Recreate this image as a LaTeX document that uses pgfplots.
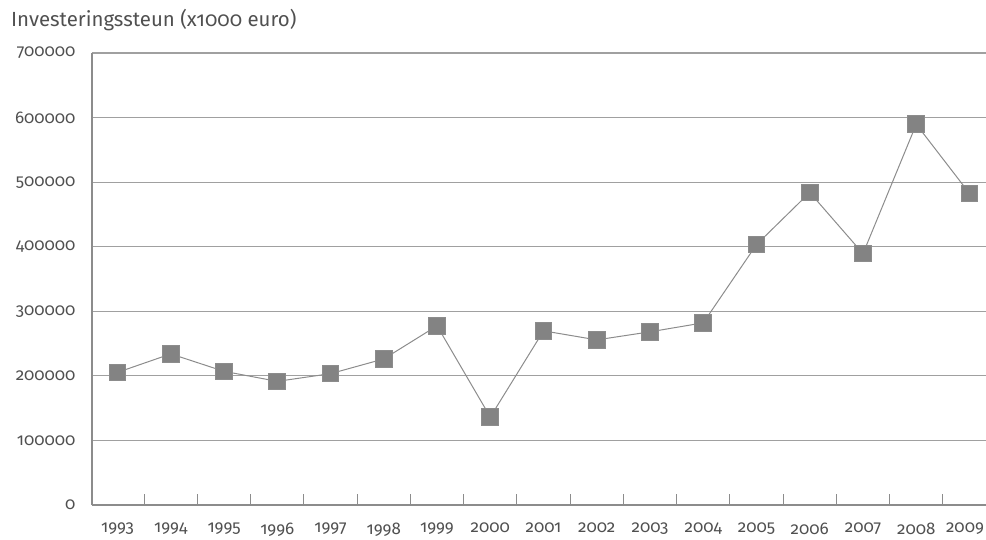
\documentclass[border=0pt]{standalone}
\usepackage{fontspec}
\setmainfont{Fira Sans}[Numbers=OldStyle]
\usepackage{pgfplots}
\pgfplotsset{compat=1.18}
\definecolor{txt}{HTML}{505050}
\definecolor{grd}{HTML}{A0A0A0}
\definecolor{axl}{HTML}{8C8C8C}
\definecolor{mk}{HTML}{838383}
\begin{document}
\begin{tikzpicture}
\useasboundingbox (-92bp,-35bp) rectangle (894bp,505bp);
\begin{axis}[
  at={(0,0)}, anchor=south west,
  scale only axis, width=894bp, height=452bp,
  xmin=-0.48, xmax=16.31, ymin=0, ymax=700000,
  axis x line*=bottom, axis y line*=left,
  axis line style={axl, line width=1.8bp, -},
  xtick={0,...,16},
  xticklabels={1993,1994,1995,1996,1997,1998,1999,2000,2001,2002,2003,2004,2005,2006,2007,2008,{\kern-9bp 2009}},
  minor xtick={0.5,1.5,...,15.5},
  major x tick style={draw=none},
  minor x tick style={axl, line width=1bp},
  minor tick length=11bp,
  tick align=inside,
  ytick={0,100000,...,700000},
  ytick style={draw=none},
  ymajorgrids, grid style={grd, line width=1.2bp},
  scaled y ticks=false,
  /pgf/number format/fixed,
  /pgf/number format/1000 sep={},
  /pgf/number format/assume math mode=true,
  yticklabel style={xshift=-13bp},
  xticklabel style={yshift=-14bp},
  ticklabel style={font=\fontsize{17}{19}\selectfont, text=txt},
  clip=false,
]
\addplot[color=axl, line width=1bp, mark=square*, mark size=8.3bp, mark options={fill=mk, draw=none}]
coordinates {
(0,205400) (1,234000) (2,207000) (3,191500) (4,203400) (5,226200) (6,277500) (7,136200)
(8,269700) (9,255700) (10,268200) (11,282100) (12,403300) (13,484000) (14,389300) (15,589600) (16,482500)
};
\end{axis}
\node[anchor=west, text=txt, font=\fontsize{20.5}{23}\selectfont, inner sep=0pt] at (-81bp,485bp) {Investeringssteun (x1000 euro)};
\end{tikzpicture}
\end{document}
